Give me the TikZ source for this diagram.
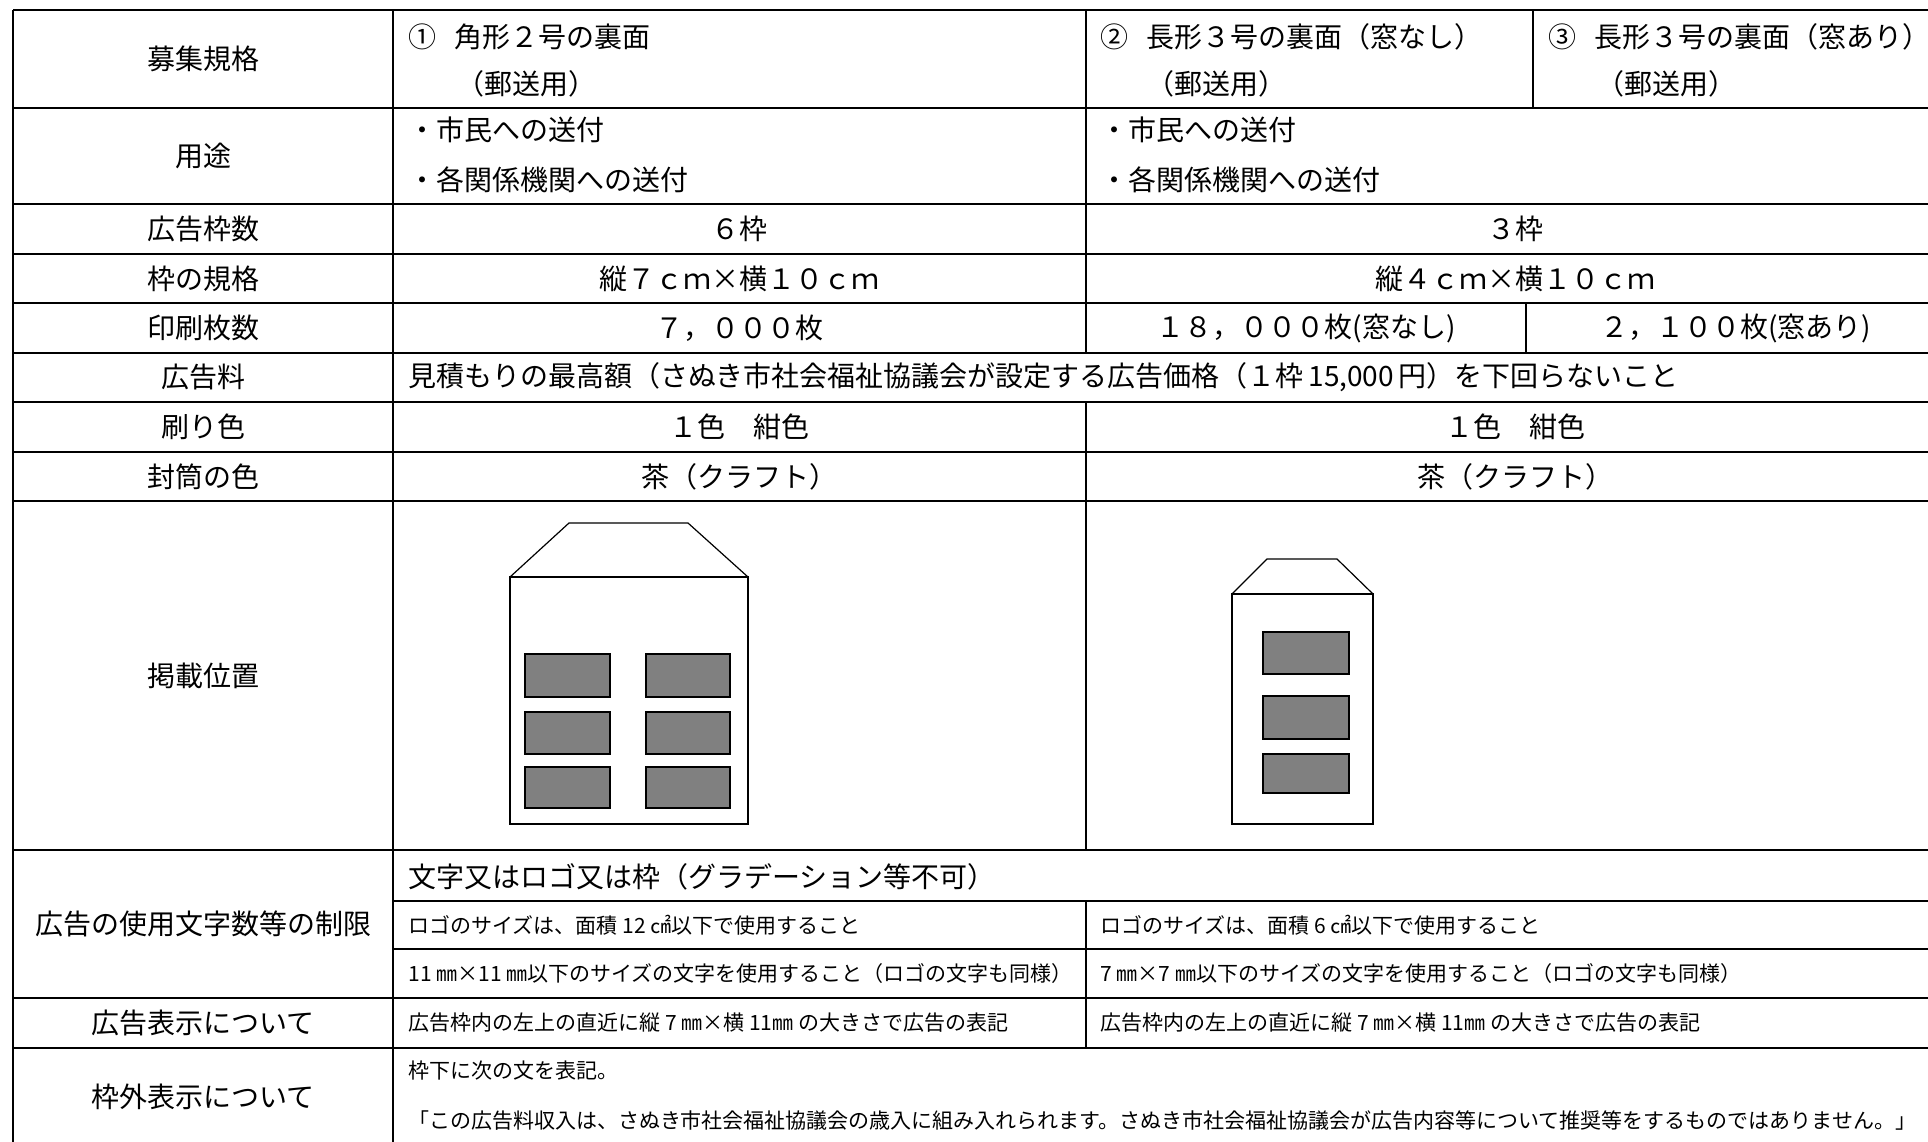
\documentclass[tikz,border=0pt]{standalone}
\usepackage{fontspec}
\setmainfont{Noto Sans CJK JP}
\begin{document}
\begin{tikzpicture}[x=0.5pt,y=-0.5pt,
  hline/.style={line width=1.3pt},
  vline/.style={line width=0.9pt},
  bodytext/.style={inner sep=0pt,font=\fontsize{14}{16}\selectfont},
  lefttext/.style={bodytext,anchor=west},
  smalltext/.style={inner sep=0pt,anchor=west,font=\fontsize{10.5}{12}\selectfont},
  envline/.style={line width=0.6pt},
  win/.style={draw,line width=0.8pt,fill=gray}]
\useasboundingbox (0,0) rectangle (1928,1141);
\clip (0,0) rectangle (1928,1141);
% grid
\foreach \y in {10,108,204,254,303,353,402,452,501,850,998,1048,1146}
  \draw [hline] (13,\y) -- (1945,\y);
\foreach \y in {901,949}
  \draw [hline] (393,\y) -- (1945,\y);
\draw [vline] (13,10) -- (13,1146);
\draw [vline] (393,10) -- (393,1146);
\draw [vline] (1945,10) -- (1945,1146);
\draw [vline] (1086,10) -- (1086,353);
\draw [vline] (1086,402) -- (1086,850);
\draw [vline] (1086,901) -- (1086,1048);
\draw [vline] (1533,10) -- (1533,108);
\draw [vline] (1526,303) -- (1526,353);
% left column
\node [bodytext] (h1) at (203,59) {募集規格};
\node [bodytext] (h2) at (203,156) {用途};
\node [bodytext] (h3) at (203,229) {広告枠数};
\node [bodytext] (h4) at (203,278.5) {枠の規格};
\node [bodytext] (h5) at (203,328) {印刷枚数};
\node [bodytext] (h6) at (203,377) {広告料};
\node [bodytext] (h7) at (203,427) {刷り色};
\node [bodytext] (h8) at (203,476.5) {封筒の色};
\node [bodytext] (h9) at (203,675.5) {掲載位置};
\node [bodytext] (h10) at (203,924) {広告の使用文字数等の制限};
\node [bodytext] (h11) at (203,1023) {広告表示について};
\node [bodytext] (h12) at (203,1097) {枠外表示について};
% header row
\node [lefttext] (kaku) at (408,37) {①\kern9pt 角形２号の裏面};
\node [lefttext] (kakuB) at (456,84) {（郵送用）};
\node [lefttext] (naga) at (1100,37) {②\kern9pt 長形３号の裏面（窓なし）};
\node [lefttext] (nagaB) at (1146,84) {（郵送用）};
\node [lefttext] (mado) at (1548,37) {③\kern9pt 長形３号の裏面（窓あり）};
\node [lefttext] (madoB) at (1596,84) {（郵送用）};
% use
\node [lefttext] (useA) at (408,130) {・市民への送付};
\node [lefttext] (useB) at (408,180) {・各関係機関への送付};
\node [lefttext] (useC) at (1100,130) {・市民への送付};
\node [lefttext] (useD) at (1100,180) {・各関係機関への送付};
% figures
\node [bodytext] (numA) at (739.5,229) {６枠};
\node [bodytext] (numB) at (1515.5,229) {３枠};
\node [bodytext] (sizeA) at (739.5,278.5) {縦７ｃｍ×横１０ｃｍ};
\node [bodytext] (sizeB) at (1515.5,278.5) {縦４ｃｍ×横１０ｃｍ};
\node [bodytext] (printA) at (739.5,328) {７，０００枚};
\node [bodytext] (printB) at (1306,328) {１８，０００枚(窓なし)};
\node [bodytext] (printC) at (1735.5,328) {２，１００枚(窓あり)};
\node [lefttext] (fee) at (408,377) {見積もりの最高額（さぬき市社会福祉協議会が設定する広告価格（１枠\,15,000\,円）を下回らないこと};
\node [bodytext] (inkA) at (739.5,427) {１色　紺色};
\node [bodytext] (inkB) at (1515.5,427) {１色　紺色};
\node [bodytext] (colA) at (739.5,476.5) {茶（クラフト）};
\node [bodytext] (colB) at (1515.5,476.5) {茶（クラフト）};
% envelope 1
\draw [envline] (510,577) -- (569,523) -- (688,523) -- (748,577);
\draw [envline] (510,577) rectangle (748,824);
\draw [hline] (510,577) -- (748,577);
\foreach \t/\b in {654/697,712/754,767/808} {
  \draw [win] (525,\t) rectangle (610,\b);
  \draw [win] (646,\t) rectangle (730,\b);
}
% envelope 2
\draw [envline] (1232,594) -- (1267,559) -- (1337,559) -- (1373,594);
\draw [envline] (1232,594) rectangle (1373,824);
\draw [hline] (1232,594) -- (1373,594);
\foreach \t/\b in {632/674,696/739,754/793}
  \draw [win] (1263,\t) rectangle (1349,\b);
% limits
\node [lefttext] (limA) at (408,877) {文字又はロゴ又は枠（グラデーション等不可）};
\node [smalltext] (limB) at (408,925) {ロゴのサイズは、面積 12 ㎠以下で使用すること};
\node [smalltext] (limC) at (1100,925) {ロゴのサイズは、面積 6 ㎠以下で使用すること};
\node [smalltext] (limD) at (408,974) {11 ㎜×11 ㎜以下のサイズの文字を使用すること（ロゴの文字も同様）};
\node [smalltext] (limE) at (1100,974) {7 ㎜×7 ㎜以下のサイズの文字を使用すること（ロゴの文字も同様）};
\node [smalltext] (showA) at (408,1023) {広告枠内の左上の直近に縦 7 ㎜×横 11㎜ の大きさで広告の表記};
\node [smalltext] (showB) at (1100,1023) {広告枠内の左上の直近に縦 7 ㎜×横 11㎜ の大きさで広告の表記};
\node [smalltext] (outA) at (408,1071) {枠下に次の文を表記。};
\node [smalltext] (outB) at (408,1121) {「この広告料収入は、さぬき市社会福祉協議会の歳入に組み入れられます。さぬき市社会福祉協議会が広告内容等について推奨等をするものではありません。」};
\end{tikzpicture}
\end{document}
